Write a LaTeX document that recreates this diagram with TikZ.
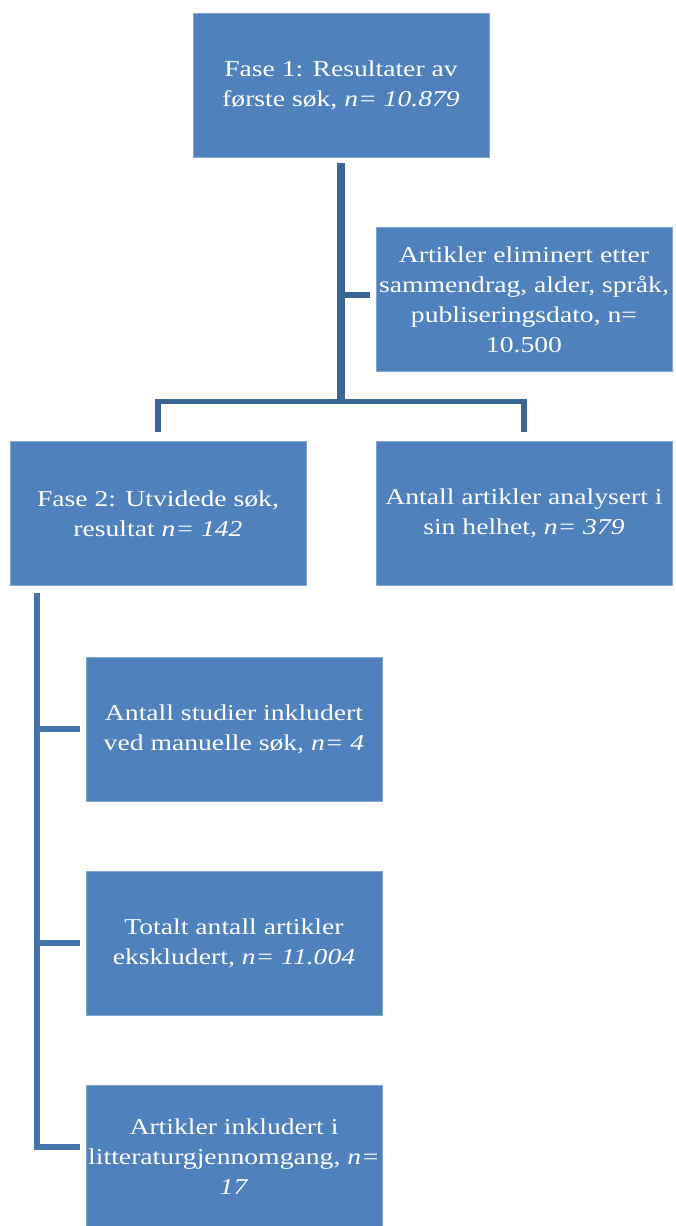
\documentclass[tikz,border=0pt]{standalone}
\usepackage{fontspec}
\setmainfont{Liberation Serif}
\newfontfamily\boxfont[FakeStretch=1.22]{Liberation Serif}
\definecolor{boxblue}{HTML}{4F81BD}
\definecolor{linkblue}{HTML}{3A6595}
\definecolor{sideblue}{HTML}{4573AB}
\begin{document}
\begin{tikzpicture}[x=0.75pt,y=-0.75pt]
    \def\dx{1}
    \def\dy{1}

    \tikzstyle{fase}=[fill=boxblue,draw=boxblue!70!white,line width=0.6pt,text=white,minimum width=222pt,minimum height=108pt,inner sep=0pt,align=center,font=\boxfont\fontsize{17}{22.5}\selectfont]
    \tikzstyle{trunk}=[draw=linkblue,line width=6pt]
    \tikzstyle{link}=[draw=linkblue,line width=4pt]
    \tikzstyle{branch}=[draw=sideblue,line width=4.2pt]

    \useasboundingbox (0,0) rectangle (675,1226);

    \node[fase]  (fase1)   at (341*\dx,85*\dy) {Fase 1: Resultater av\\første søk, \textit{n= 10.879}};
    \node[fase]  (elim)    at (524*\dx,299.5*\dy) {Artikler eliminert etter\\sammendrag, alder, språk,\\publiseringsdato, n=\\10.500};
    \node[fase]  (fase2)   at (158*\dx,513.5*\dy) {Fase 2: Utvidede søk,\\resultat \textit{n= 142}};
    \node[fase]  (analyse) at (524*\dx,513.5*\dy) {Antall artikler analysert i\\sin helhet, \textit{n= 379}};
    \node[fase]  (manuell) at (234*\dx,729*\dy) {Antall studier inkludert\\ved manuelle søk, \textit{n= 4}};
    \node[fase]  (ekskl)   at (234*\dx,943*\dy) {Totalt antall artikler\\ekskludert, \textit{n= 11.004}};
    \node[fase]  (inkl)    at (234*\dx,1157*\dy) {Artikler inkludert i\\litteraturgjennomgang, \textit{n=}\\\textit{17}};

    \coordinate (hub)   at (341*\dx,401.5*\dy);
    \coordinate (spine) at (37*\dx,593*\dy);

          \draw [trunk,shorten <=4.5pt] (fase1.south) -- (hub);
          \draw [link,shorten >=4.5pt] (hub |- 0,295) -- (elim.west |- 0,295);
          \draw [link,shorten >=6.5pt] (hub) -| (fase2.north);
          \draw [link,shorten >=6.5pt] (hub) -| (analyse.north);
          \draw [branch,shorten >=4.5pt] (spine) |- ([yshift=7.5pt]inkl.west);
          \draw [branch,shorten >=4.5pt] (spine |- manuell.west) -- (manuell.west);
          \draw [branch,shorten >=4.5pt] (spine |- ekskl.west) -- (ekskl.west);
  \end{tikzpicture}
\end{document}
